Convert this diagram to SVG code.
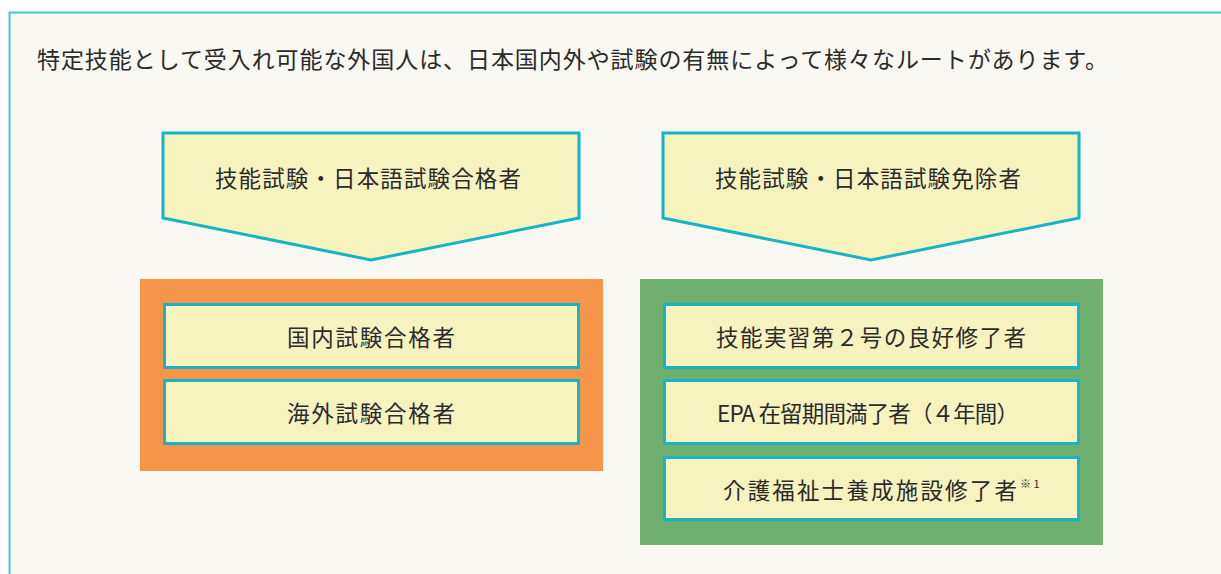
<svg xmlns="http://www.w3.org/2000/svg" width="1221" height="574" viewBox="0 0 1221 574">
<style>
.t{font-family:"Noto Sans CJK JP","Noto Sans",sans-serif;fill:#2b2b2b;}
.lbl{font-size:22.5px;text-anchor:middle;}
.box{fill:#f6f3bf;stroke:#15b4c6;stroke-width:3;}
</style>
<rect x="0" y="0" width="1221" height="574" fill="#ffffff"/>
<rect id="frame" x="9.5" y="12.5" width="1230" height="580" fill="#f9f8f3" stroke="#4ec3cd" stroke-width="2"/>
<text id="headline" class="t" x="37" y="68" font-size="23" textLength="1071" lengthAdjust="spacing">特定技能として受入れ可能な外国人は、日本国内外や試験の有無によって様々なルートがあります。</text>
<g id="arrow-left">
<polygon class="box" points="163,133 579,133 579,218 371,260 163,218" stroke-width="2.5"/>
<text class="t lbl" x="368" y="187" textLength="306" lengthAdjust="spacing">技能試験・日本語試験合格者</text>
</g>
<g id="arrow-right">
<polygon class="box" points="663,133 1079,133 1079,218 871,260 663,218" stroke-width="2.5"/>
<text class="t lbl" x="868" y="187" textLength="306" lengthAdjust="spacing">技能試験・日本語試験免除者</text>
</g>
<g id="group-orange">
<rect x="140" y="279" width="463" height="192" fill="#f7954a"/>
</g>
<g id="node-domestic">
<rect class="box" x="164.5" y="304.5" width="414" height="63"/>
<text class="t lbl" x="371" y="346" textLength="168" lengthAdjust="spacing">国内試験合格者</text>
</g>
<g id="node-overseas">
<rect class="box" x="164.5" y="380.5" width="414" height="63"/>
<text class="t lbl" x="371" y="422" textLength="168" lengthAdjust="spacing">海外試験合格者</text>
</g>
<g id="group-green">
<rect x="640" y="279" width="463" height="266" fill="#6fb06e"/>
</g>
<g id="node-intern">
<rect class="box" x="664.5" y="304.5" width="414" height="63"/>
<text class="t lbl" x="871" y="346" textLength="310" lengthAdjust="spacing">技能実習第２号の良好修了者</text>
</g>
<g id="node-epa">
<rect class="box" x="664.5" y="380.5" width="414" height="63"/>
<text class="t lbl" x="868" y="422" textLength="302" lengthAdjust="spacing">EPA 在留期間満了者（４年間）</text>
</g>
<g id="node-care">
<rect class="box" x="664.5" y="457.5" width="414" height="62"/>
<text class="t" x="723" y="499" font-size="22.5" textLength="294" lengthAdjust="spacing">介護福祉士養成施設修了者</text>
<text class="t" x="1020" y="488" font-size="11">※ 1</text>
</g>
<g id="connectors"></g>
</svg>
